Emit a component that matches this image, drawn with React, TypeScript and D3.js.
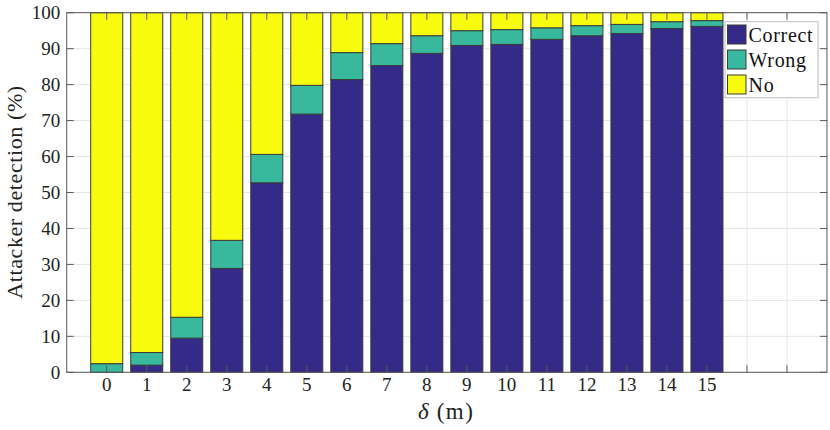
import React, { useEffect, useRef } from 'react';
import * as d3 from 'd3';

// distance delta (m)
const deltas = [0, 1, 2, 3, 4, 5, 6, 7, 8, 9, 10, 11, 12, 13, 14, 15];
// detection shares (%)
const correctPct = [0, 2.0, 9.5, 28.9, 52.7, 71.8, 81.4, 85.3, 88.7, 90.9, 91.2, 92.6, 93.6, 94.2, 95.6, 96.2];
const wrongPct = [2.4, 3.5, 5.8, 7.8, 7.9, 8.0, 7.5, 6.1, 4.9, 4.1, 4.1, 3.2, 2.8, 2.55, 1.9, 1.6];
const seriesNames = ['Correct', 'Wrong', 'No'];
const seriesColors = ['#352a87', '#38b99e', '#f9fb0e'];
const yTicks = [0, 10, 20, 30, 40, 50, 60, 70, 80, 90, 100];
const xTicks = [0, 1, 2, 3, 4, 5, 6, 7, 8, 9, 10, 11, 12, 13, 14, 15, 16, 17];

const App: React.FC = () => {
  const svgRef = useRef<SVGSVGElement>(null);

  useEffect(() => {
    if (!svgRef.current) return;
    const svg = d3.select(svgRef.current);
    svg.selectAll('*').remove();

    const width = 830;
    const height = 430;
    const left = 66.7, right = 827, top = 12.7, bottom = 372.3;
    const font = '"Liberation Serif", "DejaVu Serif", serif';

    const x = d3.scaleLinear().domain([-1, 18]).range([left, right]);
    const y = d3.scaleLinear().domain([0, 100]).range([bottom, top]);
    const barW = (x(1) - x(0)) * 0.8;

    const rows = deltas.map((d, i) => ({
      delta: d,
      Correct: correctPct[i],
      Wrong: wrongPct[i],
      No: 100 - correctPct[i] - wrongPct[i],
    }));
    const stacked = d3.stack<any>().keys(seriesNames)(rows);

    svg.attr('width', width).attr('height', height);
    svg.append('rect').attr('width', width).attr('height', height).attr('fill', '#fff');

    // grid
    const grid = svg.append('g').attr('stroke', '#e5e5e5').attr('stroke-width', 1);
    yTicks.forEach(t => {
      grid.append('line').attr('x1', left).attr('x2', right).attr('y1', y(t)).attr('y2', y(t));
    });
    xTicks.forEach(t => {
      grid.append('line').attr('x1', x(t)).attr('x2', x(t)).attr('y1', top).attr('y2', bottom);
    });

    // bars
    stacked.forEach((layer, li) => {
      svg.append('g')
        .selectAll('rect')
        .data(layer)
        .enter()
        .append('rect')
        .attr('x', d => x(d.data.delta) - barW / 2)
        .attr('width', barW)
        .attr('y', d => y(d[1]))
        .attr('height', d => Math.max(0, y(d[0]) - y(d[1])))
        .attr('fill', seriesColors[li])
        .attr('stroke', '#3a3a3a')
        .attr('stroke-width', 1);
    });

    // axes box and ticks
    const axisColor = '#5a5a5a';
    svg.append('rect')
      .attr('x', left).attr('y', top)
      .attr('width', right - left).attr('height', bottom - top)
      .attr('fill', 'none').attr('stroke', axisColor).attr('stroke-width', 1);
    const tl = 7;
    const ticks = svg.append('g').attr('stroke', axisColor).attr('stroke-width', 1);
    yTicks.forEach(t => {
      ticks.append('line').attr('x1', left).attr('x2', left + tl).attr('y1', y(t)).attr('y2', y(t));
      ticks.append('line').attr('x1', right).attr('x2', right - tl).attr('y1', y(t)).attr('y2', y(t));
    });
    xTicks.forEach(t => {
      ticks.append('line').attr('x1', x(t)).attr('x2', x(t)).attr('y1', bottom).attr('y2', bottom - tl);
      ticks.append('line').attr('x1', x(t)).attr('x2', x(t)).attr('y1', top).attr('y2', top + tl);
    });

    // tick labels
    svg.append('g')
      .selectAll('text')
      .data(yTicks)
      .enter()
      .append('text')
      .attr('x', left - 6.5)
      .attr('y', d => y(d))
      .attr('dy', '0.35em')
      .attr('text-anchor', 'end')
      .style('font-family', font)
      .style('font-size', '19px')
      .attr('fill', '#222')
      .text(d => d);

    svg.append('g')
      .selectAll('text')
      .data(deltas)
      .enter()
      .append('text')
      .attr('x', d => x(d))
      .attr('y', 391)
      .attr('text-anchor', 'middle')
      .style('font-family', font)
      .style('font-size', '19px')
      .attr('fill', '#222')
      .text(d => d);

    // axis titles
    const xl = svg.append('text')
      .attr('x', 418)
      .attr('y', 419)
      .style('font-family', font)
      .style('font-size', '23px')
      .attr('fill', '#222');
    xl.append('tspan').style('font-style', 'italic').text('δ');
    xl.append('tspan').attr('dx', 8).style('letter-spacing', '1.5px').text('(m)');

    svg.append('text')
      .attr('transform', `translate(22,${192}) rotate(-90)`)
      .attr('text-anchor', 'middle')
      .style('font-family', font)
      .style('font-size', '22px')
      .style('letter-spacing', '0.6px')
      .attr('fill', '#222')
      .text('Attacker detection (%)');

    // legend
    const lg = svg.append('g');
    lg.append('rect')
      .attr('x', 725).attr('y', 21.7).attr('width', 93).attr('height', 76)
      .attr('fill', '#fff').attr('stroke', '#bdbdbd').attr('stroke-width', 1);
    seriesNames.forEach((name, i) => {
      const cy = 34.5 + i * 25;
      lg.append('rect')
        .attr('x', 727.5).attr('y', cy - 9.5).attr('width', 18.5).attr('height', 19)
        .attr('fill', seriesColors[i]).attr('stroke', '#3a3a3a').attr('stroke-width', 1);
      lg.append('text')
        .attr('x', 748.5).attr('y', cy).attr('dy', '0.35em')
        .style('font-family', font)
        .style('font-size', '20px')
        .style('letter-spacing', '0.7px')
        .attr('fill', '#111')
        .text(name);
    });
  }, []);

  return <svg ref={svgRef} style={{ display: 'block', position: 'absolute', left: 0, top: 0 }} />;
};

export default App;
